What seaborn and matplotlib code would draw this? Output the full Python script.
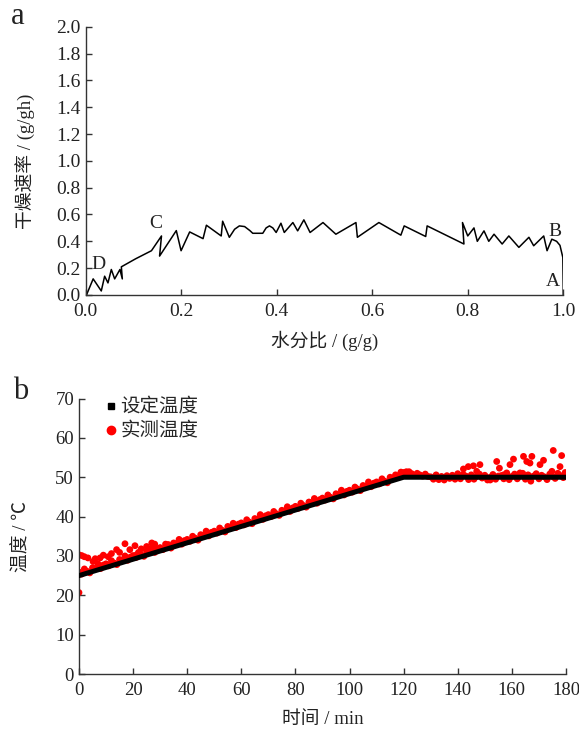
"""
Drying rate curve (a) and set / measured temperature (b).
"""

# %% ---- Requirements and constants ------------------------
import numpy as np
import matplotlib
matplotlib.use('Agg')
import matplotlib.pyplot as plt
from matplotlib.lines import Line2D
import seaborn as sns

SERIF = ['Liberation Serif', 'Noto Sans CJK SC', 'DejaVu Sans']
INK = '#222222'

# panel a: drying rate vs moisture ratio
moisture_ratio = [0.002, 0.016, 0.033, 0.040, 0.047, 0.054, 0.061, 0.072, 0.077, 0.075,
                  0.105, 0.138, 0.159, 0.155, 0.190, 0.200, 0.218, 0.246, 0.253, 0.284,
                  0.287, 0.301, 0.312, 0.322, 0.333, 0.344, 0.350, 0.371, 0.378, 0.385,
                  0.392, 0.399, 0.409, 0.416, 0.434, 0.444, 0.457, 0.470, 0.497, 0.524,
                  0.566, 0.569, 0.614, 0.660, 0.667, 0.712, 0.715, 0.792, 0.789, 0.800,
                  0.813, 0.820, 0.834, 0.844, 0.855, 0.872, 0.886, 0.907, 0.928, 0.938,
                  0.959, 0.966, 0.976, 0.986, 0.993, 0.999, 1.000]
drying_rate = [0.00, 0.12, 0.03, 0.14, 0.09, 0.19, 0.12, 0.19, 0.12, 0.21,
               0.27, 0.33, 0.44, 0.29, 0.48, 0.33, 0.47, 0.42, 0.52, 0.44,
               0.55, 0.43, 0.49, 0.515, 0.51, 0.48, 0.46, 0.46, 0.50, 0.515,
               0.50, 0.466, 0.535, 0.466, 0.54, 0.478, 0.56, 0.466, 0.54, 0.453,
               0.54, 0.43, 0.54, 0.446, 0.515, 0.436, 0.515, 0.38, 0.54, 0.44,
               0.50, 0.40, 0.478, 0.40, 0.453, 0.38, 0.44, 0.355, 0.43, 0.367,
               0.44, 0.33, 0.416, 0.40, 0.37, 0.28, 0.00]

# panel b: set temperature (programme breakpoints)
set_time = [0, 120, 180]
set_temp = [25.0, 50.0, 50.0]

# panel b: measured temperature, one reading per minute
meas_time = np.arange(0, 181)
meas_temp = [
    25.9, 25.4, 26.7, 26.1, 25.7, 27.0, 26.8, 28.0, 26.8, 27.7,
    28.0, 27.5, 28.8, 28.2, 27.8, 29.1, 28.9, 30.0, 28.9, 29.7,
    30.1, 29.6, 30.9, 30.3, 29.9, 31.2, 31.0, 32.1, 30.9, 31.8,
    32.1, 31.6, 33.0, 32.4, 32.0, 33.3, 33.1, 34.2, 33.0, 33.9,
    34.2, 33.7, 35.0, 34.5, 34.0, 35.4, 35.2, 36.3, 35.1, 36.0,
    36.3, 35.8, 37.1, 36.5, 36.1, 37.5, 37.3, 38.3, 37.2, 38.1,
    38.4, 37.9, 39.2, 38.6, 38.2, 39.5, 39.3, 40.5, 39.3, 40.2,
    40.5, 40.0, 41.3, 40.7, 40.3, 41.6, 41.4, 42.5, 41.3, 42.2,
    42.6, 42.1, 43.4, 42.8, 42.4, 43.7, 43.5, 44.6, 43.4, 44.3,
    44.7, 44.2, 45.5, 44.9, 44.5, 45.8, 45.6, 46.7, 45.5, 46.4,
    46.7, 46.2, 47.5, 47.0, 46.6, 47.9, 47.7, 48.8, 47.6, 48.5,
    48.8, 48.3, 49.6, 49.0, 48.6, 50.0, 49.8, 50.6, 50.2, 50.9,
    51.2, 50.7, 51.4, 50.9, 50.5, 51.0, 50.6, 50.3, 50.8, 50.2,
    50.1, 49.5, 50.6, 49.4, 50.2, 49.3, 50.4, 49.7, 50.5, 49.5,
    50.9, 49.6, 50.7, 50.3, 49.4, 50.6, 49.5, 50.2, 50.8, 49.8,
    50.5, 49.3, 50.0, 50.7, 49.5, 50.3, 50.4, 49.6, 50.9, 49.4,
    50.2, 50.8, 49.6, 50.3, 51.0, 49.5, 50.6, 49.0, 50.3, 50.9,
    49.6, 50.5, 50.1, 49.4, 50.8, 50.2, 49.7, 51.0, 50.4, 49.9, 50.6]

# extra readings off the main trend (start-up and late fluctuation)
extra_time = [0, 0, 1, 2, 3.3, 5.2, 6, 7.8, 9, 10.8, 12, 13.9, 15, 17, 18.8, 20.7,
              21.3, 23, 25, 26.9, 28, 30, 33,
              119, 121, 142.1, 143.9, 145.8, 147, 148.2, 152, 154.4, 155.4, 156.9,
              158.1, 159.3, 160.6, 163, 164.3, 165.5, 166.7, 167.4, 170.4, 171.7,
              174.8, 175.3, 177.8, 178.4, 179.7]
extra_temp = [30.3, 20.7, 30.1, 29.8, 29.5, 28.6, 29.3, 29.5, 30.2, 29.8, 30.6, 31.6,
              30.9, 33.1, 31.6, 32.6, 30.3, 31.8, 32.4, 33.3, 33.0, 32.0, 32.9,
              51.3, 51.4, 52.1, 52.7, 52.9, 51.5, 53.2, 49.3, 54.0, 52.3, 50.6,
              51.1, 53.2, 54.6, 51.1, 55.3, 54.0, 53.6, 55.3, 53.2, 54.3,
              51.5, 56.8, 52.7, 55.5, 51.2]


# %% ---- Function and class ------------------------
def style_axes(ax, size=14):
    sns.despine(ax=ax)
    for side in ['left', 'bottom']:
        ax.spines[side].set_linewidth(1.0)
        ax.spines[side].set_color('#333333')
    ax.tick_params(direction='in', length=4, width=1.0, color='#333333',
                   labelsize=size, labelcolor=INK)
    ax.tick_params(axis='x', pad=6)
    for lab in ax.get_xticklabels() + ax.get_yticklabels():
        lab.set_family(SERIF)


# %% ---- Play ground ------------------------
sns.set_theme(style='ticks')
plt.rcParams['font.family'] = SERIF
plt.rcParams['axes.unicode_minus'] = False

fig = plt.figure(figsize=(5.79, 7.38), dpi=100)
ax1 = fig.add_axes([0.1477, 0.6003, 0.8252, 0.3635])
ax2 = fig.add_axes([0.1364, 0.0867, 0.8411, 0.3733])

# panel a
sns.lineplot(x=moisture_ratio, y=drying_rate, sort=False, estimator=None,
             color='black', lw=1.1, ax=ax1)
ax1.set_xlim(0, 1.0)
ax1.set_ylim(0, 2.0)
ax1.set_xticks(np.arange(0, 1.01, 0.2))
ax1.set_yticks(np.arange(0, 2.01, 0.2))
ax1.xaxis.set_major_formatter(plt.FormatStrFormatter('%.1f'))
ax1.yaxis.set_major_formatter(plt.FormatStrFormatter('%.1f'))
style_axes(ax1)
ax1.set_xlabel('水分比 / (g/g)', fontsize=13.5, color=INK)
ax1.set_ylabel('干燥速率 / (g/gh)', fontsize=13.5, color=INK)
ax1.xaxis.set_label_coords(0.5, -0.135)
ax1.yaxis.set_label_coords(-0.105, 0.5)
for txt, (px, py) in {'C': (0.148, 0.53), 'D': (0.027, 0.23),
                      'B': (0.983, 0.47), 'A': (0.979, 0.10)}.items():
    ax1.text(px, py, txt, fontsize=14, ha='center', va='center', color=INK)

# panel b
sns.scatterplot(x=meas_time, y=meas_temp, color='red', s=24, edgecolor='none',
                ax=ax2, zorder=2)
sns.scatterplot(x=extra_time, y=extra_temp, color='red', s=24, edgecolor='none',
                ax=ax2, zorder=2)
sns.lineplot(x=set_time, y=set_temp, color='black', lw=3.6, ax=ax2, zorder=3)
ax2.set_xlim(0, 180)
ax2.set_ylim(0, 70)
ax2.set_xticks(np.arange(0, 181, 20))
ax2.set_yticks(np.arange(0, 71, 10))
style_axes(ax2, size=13.5)
ax2.set_xlabel('时间 / min', fontsize=13.5, color=INK)
ax2.set_ylabel('温度 / ℃', fontsize=13.5, color=INK)
ax2.xaxis.set_label_coords(0.5, -0.135)
ax2.yaxis.set_label_coords(-0.10, 0.5)

handles = [Line2D([], [], ls='none', marker='s', ms=5, color='black'),
           Line2D([], [], ls='none', marker='o', ms=6, color='red')]
ax2.legend(handles, ['设定温度', '实测温度'], loc='upper left', frameon=False,
           handletextpad=0.0, handlelength=1.0, labelspacing=0.3,
           borderaxespad=0.1, bbox_to_anchor=(0.025, 1.035),
           prop={'family': SERIF, 'size': 14})

fig.text(0.03, 0.978, 'a', fontsize=22, ha='center', va='center', color=INK)
fig.text(0.035, 0.47, 'b', fontsize=22, ha='center', va='center', color=INK)

fig.savefig('out.png', dpi=100)
